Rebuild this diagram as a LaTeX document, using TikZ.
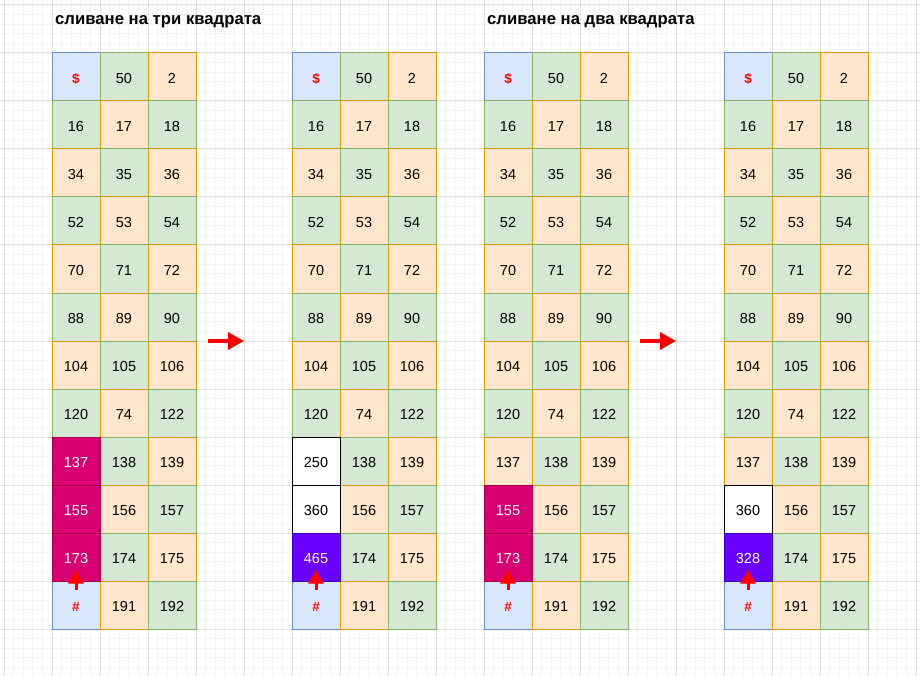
\documentclass[tikz,border=0pt]{standalone}
\usepackage{fontspec}
\setmainfont{Liberation Sans}
\usetikzlibrary{arrows.meta}
\definecolor{bluef}{HTML}{DAE8FC}\definecolor{blued}{HTML}{6C8EBF}
\definecolor{greenf}{HTML}{D5E8D4}\definecolor{greend}{HTML}{82B366}
\definecolor{orangef}{HTML}{FFE6CC}\definecolor{oranged}{HTML}{D79B00}
\definecolor{magf}{HTML}{D80073}\definecolor{magd}{HTML}{A50040}
\definecolor{purf}{HTML}{6A00FF}\definecolor{purd}{HTML}{3700CC}
\definecolor{minorgrid}{HTML}{F4F4F4}\definecolor{majorgrid}{HTML}{E2E2E2}
\newcommand\lowtxt[1]{\raisebox{-1.8pt}[\height][0pt]{#1}}
\tikzset{
  cell/.style={rectangle, minimum size=48pt, inner sep=0pt, line width=1pt,
    font=\fontsize{14.5}{17}\selectfont, text=black},
  bcell/.style={cell, fill=bluef, draw=blued, text=red, font=\fontsize{13.5}{16}\selectfont\bfseries},
  mcell/.style={cell, fill=magf, draw=magd, text=white},
  pcell/.style={cell, fill=purf, draw=purd, text=white},
  wcell/.style={cell, fill=white, draw=black},
  bigarrow/.style={draw=red, line width=3.5pt, -{Triangle[length=16pt,width=17pt]}},
  smallarrow/.style={draw=red, line width=3pt, -{Triangle[length=14pt,width=15pt]}},
  titletext/.style={font=\fontsize{16.7}{20}\selectfont\bfseries, anchor=base west, inner sep=0pt},
  mingrid/.style={draw=minorgrid, line width=0.7pt},
  majgrid/.style={draw=majorgrid, line width=1pt}
}
\newcommand\cbcell[5]{%
  \pgfmathtruncatemacro\cbodd{mod(#3+#4,2)}%
  \ifnum\cbodd=1 \colorlet{cbf}{greenf}\colorlet{cbd}{greend}\else\colorlet{cbf}{orangef}\colorlet{cbd}{oranged}\fi
  \node[cell, fill=cbf, draw=cbd] (#1r#3c#4) at ({#2+24+48*#4},{77+48*#3}) {\lowtxt{#5}};}
\newcommand\basegrid[2]{%
  \node[bcell] (#1r0c0) at ({#2+24},77) {\lowtxt{\$}};
  \cbcell{#1}{#2}{0}{1}{50}\cbcell{#1}{#2}{0}{2}{2}
  \foreach \r/\a/\b/\c in {1/16/17/18, 2/34/35/36, 3/52/53/54, 4/70/71/72, 5/88/89/90, 6/104/105/106, 7/120/74/122}{%
    \cbcell{#1}{#2}{\r}{0}{\a}\cbcell{#1}{#2}{\r}{1}{\b}\cbcell{#1}{#2}{\r}{2}{\c}}
  \node[bcell] (#1r11c0) at ({#2+24},{77+48*11}) {\lowtxt{\#}};
  \foreach \r/\b/\c in {8/138/139, 9/156/157, 10/174/175, 11/191/192}{%
    \cbcell{#1}{#2}{\r}{1}{\b}\cbcell{#1}{#2}{\r}{2}{\c}}
}
\begin{document}
\begin{tikzpicture}[x=1pt,y=-1pt]
\useasboundingbox (0,0) rectangle (920,676);
\fill[white] (0,0) rectangle (920,676);
% background grid
\foreach \i in {0,...,95}{\draw[mingrid] ({4+9.6*\i},0) -- ({4+9.6*\i},676);}
\foreach \i in {0,...,69}{\draw[mingrid] (0,{5+9.6*\i}) -- (920,{5+9.6*\i});}
\foreach \i in {0,...,19}{\draw[majgrid] ({4+48*\i},0) -- ({4+48*\i},676);}
\foreach \i in {0,...,13}{\draw[majgrid] (0,{5+48*\i}) -- (920,{5+48*\i});}
% titles
\node[titletext] (t1) at (55,25) {сливане на три квадрата};
\node[titletext] (t2) at (487,25) {сливане на два квадрата};
% grid A
\basegrid{a}{52}
\node[mcell] (ar8c0) at (76,{77+48*8}) {\lowtxt{137}};
\node[mcell] (ar9c0) at (76,{77+48*9}) {\lowtxt{155}};
\node[mcell] (ar10c0) at (76,{77+48*10}) {\lowtxt{173}};
% grid B
\basegrid{b}{292}
\node[wcell] (br8c0) at (316,{77+48*8}) {\lowtxt{250}};
\node[wcell] (br9c0) at (316,{77+48*9}) {\lowtxt{360}};
\node[pcell] (br10c0) at (316,{77+48*10}) {\lowtxt{465}};
% grid C
\basegrid{c}{484}
\cbcell{c}{484}{8}{0}{137}
\node[mcell] (cr9c0) at (508,{77+48*9}) {\lowtxt{155}};
\node[mcell] (cr10c0) at (508,{77+48*10}) {\lowtxt{173}};
% grid D
\basegrid{d}{724}
\cbcell{d}{724}{8}{0}{137}
\node[wcell] (dr9c0) at (748,{77+48*9}) {\lowtxt{360}};
\node[pcell] (dr10c0) at (748,{77+48*10}) {\lowtxt{328}};
% big arrows
\coordinate (ba1s) at (208,341); \coordinate (ba1e) at (244,341);
\coordinate (ba2s) at (640,341); \coordinate (ba2e) at (676,341);
\draw[bigarrow] (ba1s) -- (ba1e);
\draw[bigarrow] (ba2s) -- (ba2e);
% small arrows
\foreach \g in {a,b,c,d}{
  \coordinate (\g s) at ([yshift=-9pt]\g r11c0.north);
  \coordinate (\g e) at ([yshift=11pt]\g r11c0.north);
  \draw[smallarrow] (\g s) -- (\g e);
}
\end{tikzpicture}
\end{document}
